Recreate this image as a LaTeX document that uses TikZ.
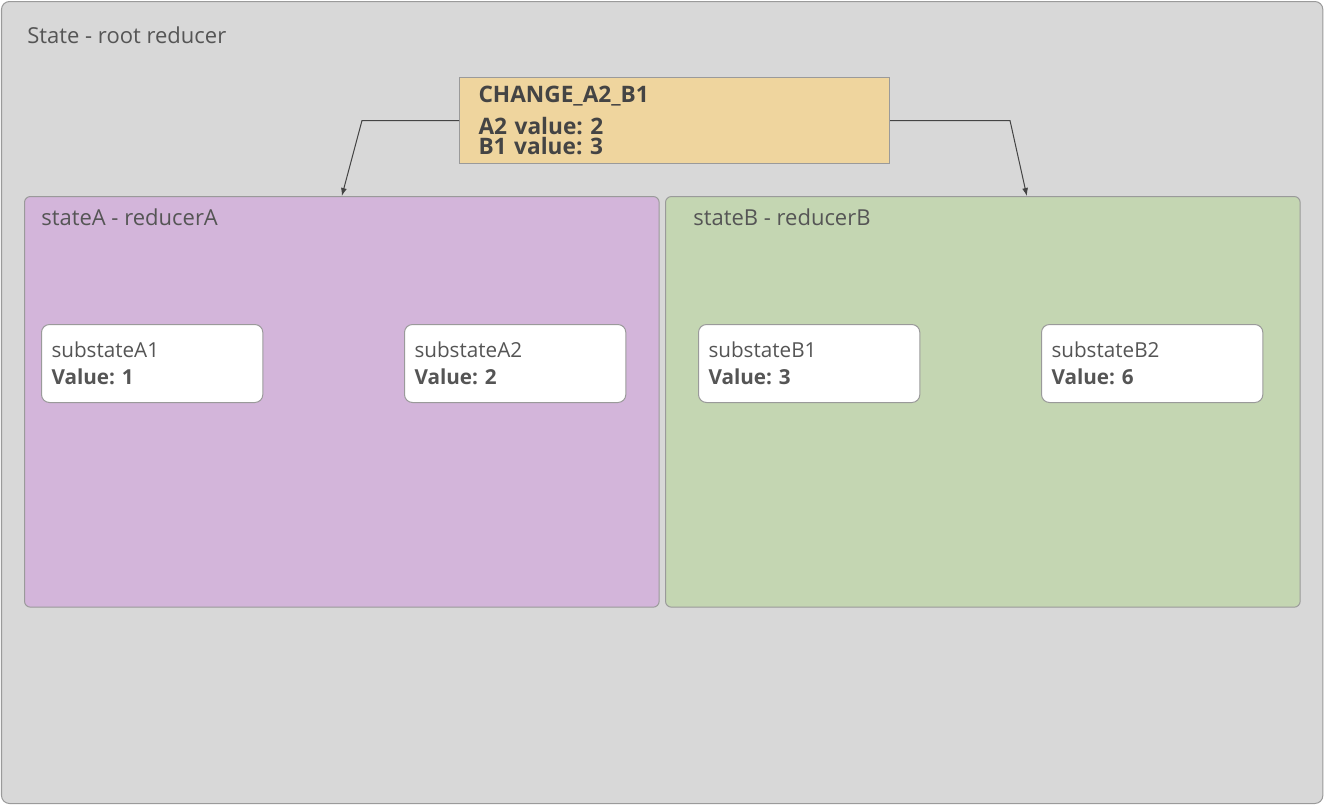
\documentclass[tikz,border=0pt]{standalone}
\usepackage{fontspec}
\setmainfont{Open Sans}
\usepackage{tikz}
\usetikzlibrary{positioning,arrows.meta,calc}
\frenchspacing

\definecolor{rootgray}{HTML}{D8D8D8}
\definecolor{edgegray}{HTML}{9A9A9A}
\definecolor{actyellow}{HTML}{EFD59E}
\definecolor{apurple}{HTML}{D3B5DA}
\definecolor{bgreen}{HTML}{C4D6B2}
\definecolor{textgray}{HTML}{555555}
\definecolor{darkgray}{HTML}{444444}

\begin{document}
\begin{tikzpicture}[x=0.75pt, y=-0.75pt,
    box/.style={draw=edgegray, line width=0.75pt, anchor=north west, inner sep=0pt},
    statebox/.style={box, rounded corners=4.5pt, minimum width=476pt, minimum height=308pt},
    substate/.style={box, fill=white, rounded corners=6pt, minimum width=166pt, minimum height=58.5pt,
        text width=151pt, align=left, text=textgray, font=\fontsize{15.5}{20.5}\selectfont},
    tag/.style={anchor=base west, inner sep=0pt, text=textgray, font=\fontsize{16.5}{18}\selectfont},
    arrowline/.style={draw=darkgray, line width=0.75pt, -{Latex[length=6pt, width=4.5pt]}}
]
    \useasboundingbox (0,0) rectangle (1324,804);

    % Draw the root state
    \node[box, fill=rootgray, rounded corners=6pt, minimum width=991pt, minimum height=601.5pt] (root) at (1,1) {};
    \node[tag] at ([shift={(26,42)}]root.north west) {State - root reducer};

    % Draw the action
    \node[box, fill=actyellow, minimum width=322.5pt, minimum height=64.5pt,
        text width=294pt, align=left, text=darkgray, font=\bfseries\fontsize{17}{15}\selectfont] (act) at (459,77)
        {CHANGE\_A2\_B1\\[7.5pt]A2 value: 2\\B1 value: 3};

    % Draw the two sub states
    \node[statebox, fill=apurple] (sa) at (24,196) {};
    \node[statebox, fill=bgreen] (sb) at (665,196) {};
    \node[tag] at ([shift={(17,29)}]sa.north west) {stateA - reducerA};
    \node[tag] at ([shift={(28,29)}]sb.north west) {stateB - reducerB};

    % Draw the substates
    \node[substate] (a1) at (41,324) {substateA1\\\textbf{Value: 1}};
    \node[substate] (a2) at (404,324) {substateA2\\\textbf{Value: 2}};
    \node[substate] (b1) at (698,324) {substateB1\\\textbf{Value: 3}};
    \node[substate] (b2) at (1041,324) {substateB2\\\textbf{Value: 6}};

    % Draw the dispatch arrows
    \draw[arrowline] (act.west) -- ++(-97,0) -- (sa.north);
    \draw[arrowline] (act.east) -- ++(120,0) -- ($(sb.north)+(44,0)$);

\end{tikzpicture}
\end{document}
